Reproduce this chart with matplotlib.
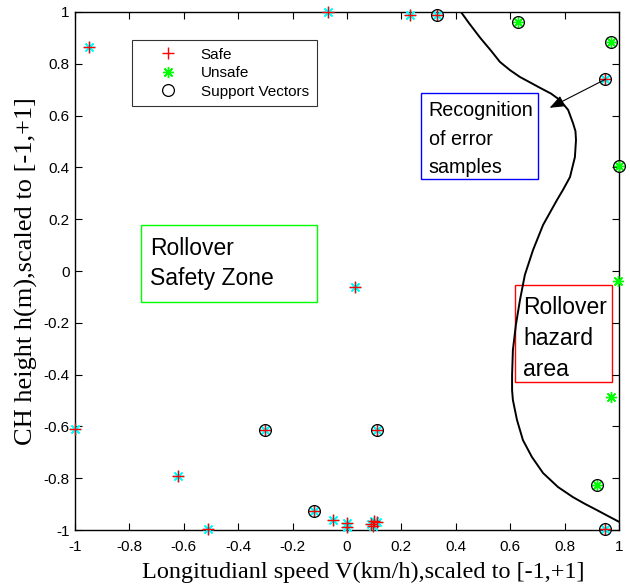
import matplotlib
matplotlib.use("Agg")
import matplotlib.pyplot as plt
from matplotlib.patches import Rectangle

# ---- data ----
safe_x = [-0.95, -0.07, 0.23, 0.33, 0.95, 0.03, -1.0, -0.30, 0.11, -0.62, -0.51,
          -0.12, -0.05, 0.0, 0.0, 0.09, 0.10, 0.11, 0.095, 0.95]
safe_y = [0.865, 1.0, 0.99, 0.99, 0.74, -0.06, -0.61, -0.615, -0.615, -0.79, -0.995,
          -0.925, -0.962, -0.973, -0.988, -0.975, -0.965, -0.97, -0.985, -0.995]
unsafe_x = [0.63, 0.97, 1.0, 0.995, 0.97, 0.92]
unsafe_y = [0.96, 0.885, 0.405, -0.04, -0.485, -0.825]
sv_x = [0.33, 0.95, -0.30, 0.11, -0.12, 0.95, 0.63, 0.97, 1.0, 0.92]
sv_y = [0.99, 0.74, -0.615, -0.615, -0.925, -0.995, 0.96, 0.885, 0.405, -0.825]
boundary_x = [0.419, 0.45, 0.49, 0.53, 0.5625, 0.60, 0.636, 0.675, 0.710, 0.750, 0.783, 0.813,
              0.831, 0.840, 0.842, 0.838, 0.820, 0.794, 0.772, 0.721, 0.684, 0.654, 0.636,
              0.621, 0.610, 0.607, 0.607, 0.610, 0.625, 0.647, 0.680, 0.721, 0.776, 0.831,
              0.875, 0.919, 0.96, 1.0]
boundary_y = [1.0, 0.955, 0.90, 0.85, 0.807, 0.775, 0.749, 0.727, 0.707, 0.685, 0.660, 0.622,
              0.571, 0.54, 0.506, 0.440, 0.363, 0.313, 0.274, 0.178, 0.081, -0.015, -0.112,
              -0.208, -0.305, -0.402, -0.46, -0.498, -0.575, -0.653, -0.718, -0.780, -0.834, -0.873,
              -0.899, -0.923, -0.946, -0.968]
xticks = [-1, -0.8, -0.6, -0.4, -0.2, 0, 0.2, 0.4, 0.6, 0.8, 1]
xtick_labels = ["-1", "-0.8", "-0.6", "-0.4", "-0.2", "0", "0.2", "0.4", "0.6", "0.8", "1"]
yticks = [-1, -0.8, -0.6, -0.4, -0.2, 0, 0.2, 0.4, 0.6, 0.8, 1]
ytick_labels = ["-1", "-0.8", "-0.6", "-0.4", "-0.2", "0", "0.2", "0.4", "0.6", "0.8", "1"]

sans = ["Liberation Sans", "DejaVu Sans"]
serif = ["Liberation Serif", "DejaVu Serif"]

fig = plt.figure(figsize=(6.3, 5.87), dpi=100)
ax = fig.add_axes([0.119, 0.097, 0.8635, 0.8826])

asterisk = (8, 2, 0)

# safe samples: cyan asterisk + red plus
ax.plot(safe_x, safe_y, linestyle="none", marker=asterisk, color="#00FFFF",
        markersize=8, markeredgewidth=1.0, label="_nolegend_", clip_on=False, zorder=3)
ax.plot(safe_x, safe_y, linestyle="none", marker="+", color="#FF0000",
        markersize=8, markeredgewidth=1.0, label="Safe", clip_on=False, zorder=4)
ax.plot(unsafe_x, unsafe_y, linestyle="none", marker=asterisk, color="#00FF00",
        markersize=8, markeredgewidth=1.0, label="Unsafe", clip_on=False, zorder=4)
ax.plot(sv_x, sv_y, linestyle="none", marker="o", markerfacecolor="none",
        markeredgecolor="black", markersize=8.5, markeredgewidth=0.9,
        label="Support Vectors", clip_on=False, zorder=5)

ax.plot(boundary_x, boundary_y, color="black", linewidth=1.4, zorder=2)

ax.set_xlim(-1, 1)
ax.set_ylim(-1, 1)
ax.set_xticks(xticks)
ax.set_xticklabels(xtick_labels, fontfamily=sans, fontsize=11)
ax.set_yticks(yticks)
ax.set_yticklabels(ytick_labels, fontfamily=sans, fontsize=11)
ax.tick_params(direction="in", top=True, right=True, length=5, width=0.8)
ax.tick_params(axis="x", pad=7)
ax.tick_params(axis="y", pad=4)
for s in ax.spines.values():
    s.set_linewidth(1.0)

ax.set_xlabel("Longitudianl speed V(km/h),scaled to [-1,+1]", fontfamily=serif, fontsize=17.5, labelpad=6)
ax.xaxis.label.set_x(0.53)
ax.set_ylabel("CH height h(m),scaled to [-1,+1]", fontfamily=serif, fontsize=19, labelpad=4)

leg = ax.legend(loc="upper left", bbox_to_anchor=(0.105, 0.946), prop={"family": sans, "size": 11},
                frameon=True, fancybox=False, edgecolor="black", handletextpad=0.3,
                borderpad=0.5, labelspacing=0.3, handlelength=3.7, borderaxespad=0)
leg.get_frame().set_linewidth(0.8)

# text boxes
ax.add_patch(Rectangle((0.272, 0.355), 0.430, 0.332, fill=False, edgecolor="#0000FF", linewidth=1.0, zorder=1))
ax.text(0.300, 0.657, "Recognition\nof error\nsamples", fontfamily=sans, fontsize=14.2, va="top",
        ha="left", linespacing=1.65)
ax.add_patch(Rectangle((-0.757, -0.120), 0.647, 0.298, fill=False, edgecolor="#00FF00", linewidth=1.0, zorder=1))
ax.text(-0.725, 0.133, "Rollover\nSafety Zone", fontfamily=sans, fontsize=16.5, va="top",
        ha="left", linespacing=1.42)
ax.add_patch(Rectangle((0.618, -0.429), 0.356, 0.375, fill=False, edgecolor="#FF0000", linewidth=1.0, zorder=1))
ax.text(0.648, -0.097, "Rollover\nhazard\narea", fontfamily=sans, fontsize=16.5, va="top",
        ha="left", linespacing=1.45)

# arrow
ax.annotate("", xy=(0.745, 0.63), xytext=(0.95, 0.74),
            arrowprops=dict(arrowstyle="-|>,head_length=0.9,head_width=0.35", color="black",
                            linewidth=0.8, shrinkA=0, shrinkB=0), zorder=6)

fig.savefig("out.png", dpi=100)
